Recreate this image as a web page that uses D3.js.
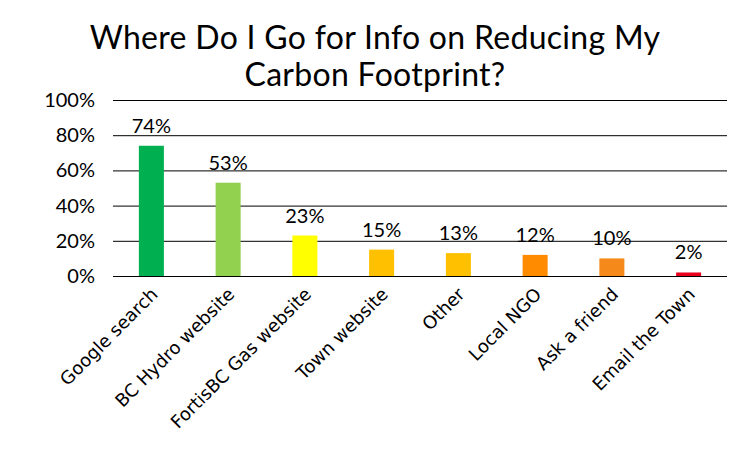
<!DOCTYPE html>
<html>
<head>
<meta charset="utf-8">
<script src="https://cdnjs.cloudflare.com/ajax/libs/d3/7.8.5/d3.min.js"></script>
<style>
  body { margin: 0; background: #fff; }
  #chart text { fill: #000; }
</style>
</head>
<body>
<div id="chart"></div>
<script>
'use strict';

var categories = ["Google search", "BC Hydro website", "FortisBC Gas website", "Town website",
    "Other", "Local NGO", "Ask a friend", "Email the Town"];
var values = [74, 53, 23, 15, 13, 12, 10, 2];
var barColors = ["#00b050", "#92d050", "#ffff00", "#ffc000", "#ffc000", "#ff8c00", "#f5891a", "#e8001c"];
var yTicks = [0, 20, 40, 60, 80, 100];
var titleLines = ["Where Do I Go for Info on Reducing My", "Carbon Footprint?"];

var WIDTH = 750,
    HEIGHT = 450,
    PLOT = { LEFT: 113, RIGHT: 727, TOP: 100, BOTTOM: 276 },
    TITLE_FONT = "Lato, 'Open Sans', sans-serif",
    LABEL_FONT = "'DejaVu Sans', Verdana, sans-serif";

var svg = d3.select("#chart").append("svg")
    .attr("width", WIDTH)
    .attr("height", HEIGHT);

var x = d3.scaleBand()
    .domain(categories)
    .range([PLOT.LEFT, PLOT.RIGHT])
    .paddingInner(0.674)
    .paddingOuter(0.337);

var y = d3.scaleLinear()
    .domain([0, 100])
    .range([PLOT.BOTTOM, PLOT.TOP]);

// title
svg.append("g").selectAll("text")
    .data(titleLines)
    .join("text")
    .attr("x", WIDTH / 2)
    .attr("y", function (d, i) { return 49 + i * 37; })
    .attr("text-anchor", "middle")
    .style("font-family", TITLE_FONT)
    .style("font-size", "32px")
    .style("letter-spacing", "0.3px")
    .text(function (d) { return d; });

// gridlines + y labels
var yAxis = d3.axisLeft(y)
    .tickValues(yTicks)
    .tickSize(-(PLOT.RIGHT - PLOT.LEFT))
    .tickPadding(18)
    .tickFormat(function (d) { return d + "%"; });

var gy = svg.append("g")
    .attr("transform", "translate(" + PLOT.LEFT + ",0)")
    .call(yAxis);
gy.select(".domain").remove();
gy.selectAll(".tick line").attr("stroke", "#000").attr("stroke-width", 1);
gy.selectAll(".tick text")
    .style("font-family", TITLE_FONT)
    .style("font-size", "20px");

// bars
svg.append("g").selectAll("rect")
    .data(values)
    .join("rect")
    .attr("x", function (d, i) { return x(categories[i]); })
    .attr("y", function (d) { return y(d); })
    .attr("width", x.bandwidth())
    .attr("height", function (d) { return y(0) - y(d); })
    .attr("fill", function (d, i) { return barColors[i]; });

// value labels
svg.append("g").selectAll("text")
    .data(values)
    .join("text")
    .attr("x", function (d, i) { return x(categories[i]) + x.bandwidth() / 2; })
    .attr("y", function (d) { return y(d) - 13; })
    .attr("text-anchor", "middle")
    .style("font-family", TITLE_FONT)
    .style("font-size", "20px")
    .text(function (d) { return d + "%"; });

// category labels
var xAxis = d3.axisBottom(x).tickSize(0).tickPadding(0);
var gx = svg.append("g")
    .attr("transform", "translate(0," + PLOT.BOTTOM + ")")
    .call(xAxis);
gx.select(".domain").remove();
gx.selectAll(".tick text")
    .attr("transform", "translate(3,15) rotate(-45)")
    .attr("dy", "0.35em")
    .attr("text-anchor", "end")
    .style("font-family", LABEL_FONT)
    .style("font-size", "18px");
</script>
</body>
</html>
